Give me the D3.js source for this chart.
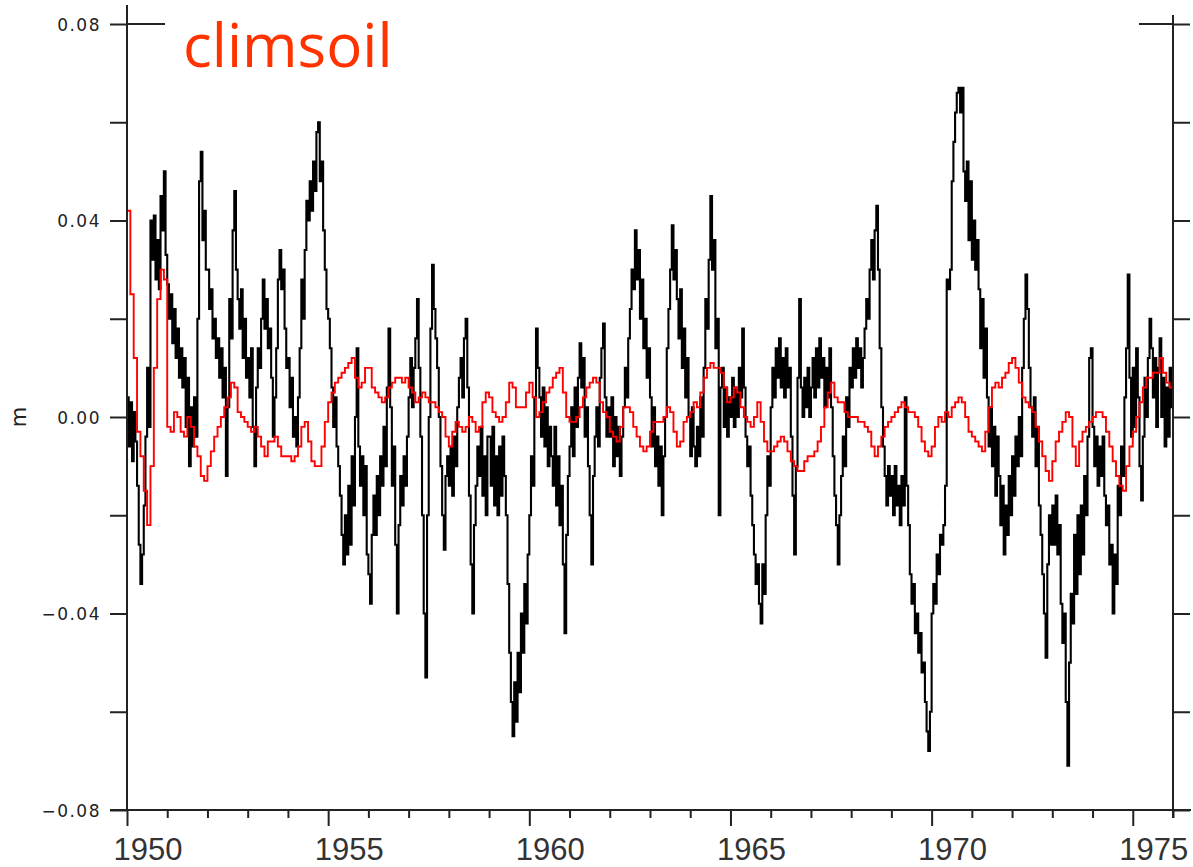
<!DOCTYPE html>
<html><head><meta charset="utf-8">
<script src="https://cdn.jsdelivr.net/npm/d3@7"></script>
<style>html,body{margin:0;padding:0;background:#fff}svg{display:block}</style>
</head><body>
<svg id="chart" width="1193" height="867"></svg>
<script>
// Soil moisture anomaly (mm), semi-monthly, 1950-1975 (24 values per year)
const blackMm = [
 4,-6,3,-9,1,-5,-14,-26,-34,-28,-18,-4,10,-2,40,32,41,28,36,26,45,38,50,33,
 27,20,25,15,22,12,18,8,14,6,12,-2,8,-10,2,-6,4,-4,20,48,54,36,42,30,
 30,22,26,16,20,12,16,8,14,4,10,-12,2,24,16,38,46,30,24,18,26,12,20,8,
 12,4,14,-2,-10,6,14,10,20,28,18,24,14,18,8,-4,4,14,28,34,26,30,18,10,
 12,2,8,-4,0,-6,4,14,28,20,34,44,40,48,42,52,46,58,60,48,52,38,30,22,
 20,14,6,-2,4,-6,-10,-16,-24,-30,-20,-28,-14,-26,-8,-18,0,14,-6,-14,-8,-20,-10,-28,
 -32,-38,-24,-16,-24,-12,-20,-8,-14,-2,-10,6,18,2,-14,-6,-26,-40,-22,-12,-18,-8,-14,-4,
 4,12,2,10,16,24,10,-4,-20,-40,-53,-20,0,18,31,22,16,10,0,-10,-20,-27,-12,-8,
 -14,-6,-16,-4,-10,2,8,12,4,16,20,6,-16,-30,-40,-22,-14,-6,-12,-2,-16,-8,-20,-4,
 -4,-14,-2,-18,-8,-20,-6,-16,-4,-12,-20,-34,-48,-58,-65,-54,-62,-48,-56,-40,-48,-34,-42,-28,
 -20,-8,-14,4,18,10,4,-4,6,-6,2,-10,-2,-8,-14,-2,-18,-8,-22,-14,-30,-44,-24,-12,
 -6,2,-8,6,-2,8,15,6,12,-4,2,-10,-20,-30,-12,-4,2,-6,8,14,19,4,-4,2,
 -4,4,-10,0,-8,-2,-12,-4,2,10,4,16,22,30,26,38,28,34,20,28,14,20,8,14,
 4,-6,2,-10,-4,-14,-6,-20,-8,0,14,22,30,39,28,34,24,16,26,10,18,4,12,0,
 -8,2,-6,-10,-2,-8,4,-4,10,24,18,32,45,30,36,14,20,-20,6,10,-2,6,-4,4,
 0,8,-2,6,0,10,4,18,6,-4,-10,-6,-16,-22,-28,-34,-30,-38,-42,-30,-36,-20,-8,-14,
 2,10,4,14,8,16,6,12,4,14,6,10,-4,-16,-28,-10,8,24,6,0,8,2,10,0,
 6,12,4,14,6,16,8,12,2,10,4,14,2,-8,-16,-22,-30,-20,-12,-4,-10,4,-2,10,
 6,14,8,16,10,14,6,12,18,24,20,30,36,28,38,43,30,14,2,-6,-12,-18,-10,-16,
 -12,-20,-10,-18,-14,-22,-12,-18,4,-14,-22,-32,-38,-34,-44,-40,-48,-44,-52,-50,-58,-64,-68,-60,
 -40,-34,-38,-28,-32,-24,-26,-22,-14,28,26,30,48,56,62,66,67,62,67,50,44,52,36,48,
 32,40,30,36,26,14,24,8,18,4,-6,2,-10,-2,-16,-4,-12,-22,-14,-28,-18,-24,-12,-20,
 -8,-16,-4,-10,0,-8,10,20,29,22,10,2,-4,4,-10,-2,-18,-24,-32,-40,-49,-30,-20,-26,
 -18,-26,-16,-28,-22,-38,-46,-40,-58,-71,-50,-36,-42,-24,-36,-20,-32,-18,-28,-12,-20,-4,12,14,
 -2,-10,-4,-14,-6,-12,-4,-16,-22,-18,-30,-26,-40,-28,-34,-14,-20,-6,-12,4,14,29,8,-4,
 10,-2,14,4,-10,-17,-4,8,0,12,20,14,4,12,-2,10,16,0,8,-6,6,-4,10,2
];
// climsoil run anomaly (mm), monthly, 1950-1975
const redMm = [
 42,25,12,-3,-8,-15,-22,-10,10,24,30,28,
 -2,-3,1,0,-3,-4,0,-2,-6,-8,-12,-13,
 -10,-7,-4,-2,0,2,4,7,6,1,0,-1,
 -2,-3,-2,-4,-6,-8,-5,-5,-4,-6,-8,-8,
 -8,-9,-8,-6,-2,-1,-5,-9,-10,-10,-6,-1,
 3,5,7,8,9,10,11,12,8,6,7,10,
 10,6,5,4,3,4,6,7,8,8,7,8,
 6,5,3,4,5,4,3,3,2,1,0,-4,
 -6,-3,-1,-2,-3,-2,0,-1,-3,-2,3,5,
 4,1,0,-1,0,3,7,6,2,2,2,5,
 7,4,0,1,3,5,6,8,9,10,5,0,
 -1,-1,0,2,4,6,7,8,7,3,1,0,
 -3,-4,-5,-2,2,2,1,-2,-4,-6,-7,-6,
 -3,-1,-1,-1,0,2,1,-3,-6,-5,-1,0,
 1,3,2,5,8,10,11,10,10,9,6,3,
 4,6,5,2,0,-1,-2,0,3,-1,-5,-7,
 -7,-6,-5,-4,-5,-7,-9,-10,-11,-11,-9,-8,
 -8,-7,-5,-2,2,5,7,4,3,3,1,0,
 0,0,-1,-1,-2,-3,-6,-8,-6,-4,-2,-1,
 0,1,2,3,2,1,1,0,-2,-5,-7,-8,
 -6,-2,0,-1,1,0,2,3,4,3,0,-3,
 -4,-5,-6,-7,-3,2,6,7,6,8,9,11,
 12,10,7,4,3,2,1,-2,-5,-8,-11,-13,
 -9,-5,-3,-1,1,0,-6,-10,-5,-3,-2,-1,
 0,1,1,0,-3,-6,-9,-12,-14,-15,-10,-6,
 -3,0,3,6,8,8,9,9,12,9,7,6
];
const startYear = 1950, endYear = 1976;
const yTicks = [-0.08,-0.06,-0.04,-0.02,0,0.02,0.04,0.06,0.08];
const yLabelTicks = [-0.08,-0.04,0,0.04,0.08];
const xTickYears = d3.range(1950, 1977);
const xLabelYears = [1950,1955,1960,1965,1970,1975];
const titleText = "climsoil";
const unitText = "m";

const svg = d3.select("#chart");
const x = d3.scaleLinear().domain([startYear, endYear]).range([127, 1173]);
const y = d3.scaleLinear().domain([-0.08, 0.08]).range([810, 24]);
const axisColor = "#222";

function series(arr, perYear){
  const pts = arr.map((v,i)=>({t:startYear + i/perYear, v:v/1000}));
  pts.push({t:endYear, v:arr[arr.length-1]/1000});
  return pts;
}
const line = d3.line().x(d=>x(d.t)).y(d=>y(d.v)).curve(d3.curveStepAfter);

svg.append("path").datum(series(blackMm,24))
  .attr("d", line).attr("fill","none").attr("stroke","#000")
  .attr("stroke-width",2.1).attr("stroke-linejoin","miter");
svg.append("path").datum(series(redMm,12))
  .attr("d", line).attr("fill","none").attr("stroke","#ff0000")
  .attr("stroke-width",1.9);

// Left axis
const isLabel = d => yLabelTicks.some(v=>Math.abs(v-d)<1e-9);
const fmt = d3.format(".2f");
const gl = svg.append("g").attr("transform","translate(127,0)")
  .call(d3.axisLeft(y).tickValues(yTicks).tickSize(17).tickFormat(d=>isLabel(d)?fmt(d):""));
gl.select(".domain").remove();
gl.selectAll(".tick line").attr("stroke",axisColor).attr("stroke-width",2);
gl.selectAll(".tick text").attr("x",-26).attr("dy","0.36em")
  .attr("font-family","DejaVu Sans").attr("font-size",17).attr("letter-spacing",1.5)
  .attr("fill","#222");
svg.append("line").attr("x1",127).attr("x2",127).attr("y1",5).attr("y2",y(-0.08))
  .attr("stroke",axisColor).attr("stroke-width",2);
svg.append("line").attr("x1",127).attr("x2",165).attr("y1",y(0.08)).attr("y2",y(0.08))
  .attr("stroke",axisColor).attr("stroke-width",2);

// Right axis
const gr = svg.append("g").attr("transform","translate(1173,0)")
  .call(d3.axisRight(y).tickValues(yTicks).tickSize(17).tickFormat(""));
gr.select(".domain").remove();
gr.selectAll(".tick line").attr("stroke",axisColor).attr("stroke-width",2);
svg.append("line").attr("x1",1173).attr("x2",1173).attr("y1",15).attr("y2",818)
  .attr("stroke",axisColor).attr("stroke-width",2);
svg.append("line").attr("x1",1139).attr("x2",1173).attr("y1",y(0.08)).attr("y2",y(0.08))
  .attr("stroke",axisColor).attr("stroke-width",2);

// Bottom axis
const gb = svg.append("g").attr("transform","translate(0,810)")
  .call(d3.axisBottom(x).tickValues(xTickYears).tickSize(8)
    .tickFormat(d=>xLabelYears.includes(d)?String(d):""));
gb.select(".domain").remove();
gb.selectAll(".tick line").attr("stroke",axisColor).attr("stroke-width",2)
  .attr("y2",d=>xLabelYears.includes(d)?16:8);
gb.selectAll(".tick text").attr("x",-14).attr("y",50).attr("dy",0)
  .attr("text-anchor","start")
  .attr("font-family","Liberation Sans").attr("font-size",31).attr("fill","#333");
svg.append("line").attr("x1",110).attr("x2",1191).attr("y1",810).attr("y2",810)
  .attr("stroke",axisColor).attr("stroke-width",2);

// Unit label
svg.append("text").attr("transform","translate(26,417) rotate(-90)")
  .attr("text-anchor","middle").attr("font-family","DejaVu Sans").attr("font-size",21)
  .attr("fill","#222").text(unitText);

// Title
svg.append("text").attr("x",183).attr("y",67)
  .attr("font-family","Open Sans").attr("font-size",60).attr("fill","#ff3300")
  .text(titleText);
</script>
</body></html>
